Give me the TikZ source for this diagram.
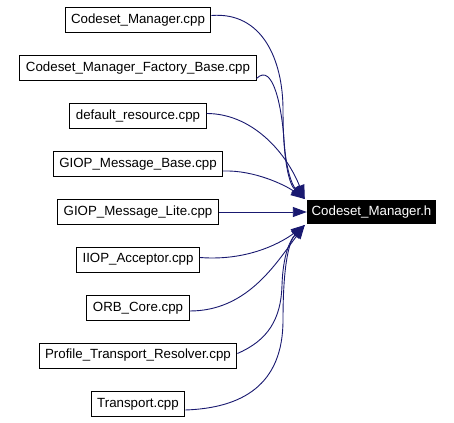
\documentclass[tikz,border=0pt]{standalone}
\usepackage{fontspec}
\setmainfont{Liberation Sans}
\usetikzlibrary{arrows.meta}
\definecolor{edgeblue}{RGB}{25,25,112}
\tikzstyle{fl}=[draw=black,line width=1pt,fill=white,minimum height=25pt,inner xsep=6pt,inner ysep=2pt,font=\fontsize{13.3}{16}\selectfont]
\tikzstyle{hd}=[fill=black,text=white,minimum height=24pt,minimum width=129pt,inner xsep=4pt,inner ysep=2pt,font=\fontsize{13.3}{16}\selectfont]
\tikzstyle{ed}=[draw=edgeblue,line width=0.9pt,-{Triangle[length=14pt,width=10pt]}]

\begin{document}
\begin{tikzpicture}[x=1pt,y=-1pt]
\useasboundingbox (0,0) rectangle (454,422);
\node[hd] (cmh) at (371.5,212) {Codeset\_Manager.h};
\node[fl] (cmcpp) at (138,20.5) {Codeset\_Manager.cpp};
\node[fl] (cmfb) at (138,68.5) {Codeset\_Manager\_Factory\_Base.cpp};
\node[fl] (defres) at (138,116.5) {default\_resource.cpp};
\node[fl] (gmbase) at (138,164) {GIOP\_Message\_Base.cpp};
\node[fl] (gmlite) at (138,212) {GIOP\_Message\_Lite.cpp};
\node[fl] (iiop) at (138,259.5) {IIOP\_Acceptor.cpp};
\node[fl] (orb) at (138,308) {ORB\_Core.cpp};
\node[fl] (ptr) at (138,355.5) {Profile\_Transport\_Resolver.cpp};
\node[fl] (trans) at (138,404) {Transport.cpp};
% upper edges
\draw[ed] ([yshift=5pt]cmcpp.east) .. controls +(51,-4) and (283,60) .. (283,110) .. controls (283,165) and (290,185) .. ([yshift=13pt,xshift=-2pt]cmh.west);
\draw[ed] ([yshift=-10pt]cmfb.east) .. controls +(17,-17) and (282,110) .. (284,140) .. controls (286,170) and (292,185) .. ([yshift=13pt,xshift=-2pt]cmh.west);
\draw[ed] ([yshift=3pt]defres.east) .. controls +(44,0) and (285,150) .. ([yshift=13pt,xshift=-2pt]cmh.west);
\draw[ed] ([yshift=-7pt]gmbase.east) .. controls +(31,-1) and (285,185) .. ([yshift=13pt,xshift=-2pt]cmh.west);
\draw[ed] (gmlite.east) -- (cmh.west);
% lower edges
\draw[ed] ([yshift=2pt]iiop.east) .. controls +(51,4) and (285,240) .. ([yshift=-13pt,xshift=-2pt]cmh.west);
\draw[ed] ([yshift=-3pt]orb.east) .. controls +(57,0) and (275,265) .. ([yshift=-13pt,xshift=-2pt]cmh.west);
\draw[ed] ([yshift=2pt]ptr.east) .. controls +(30,-13) and (281,320) .. (282,285) .. controls (283,255) and (290,240) .. ([yshift=-13pt,xshift=-2pt]cmh.west);
\draw[ed] ([yshift=-6pt]trans.east) .. controls +(57,-2) and (283,385) .. (283,320) .. controls (283,260) and (290,240) .. ([yshift=-13pt,xshift=-2pt]cmh.west);
\end{tikzpicture}
\end{document}
